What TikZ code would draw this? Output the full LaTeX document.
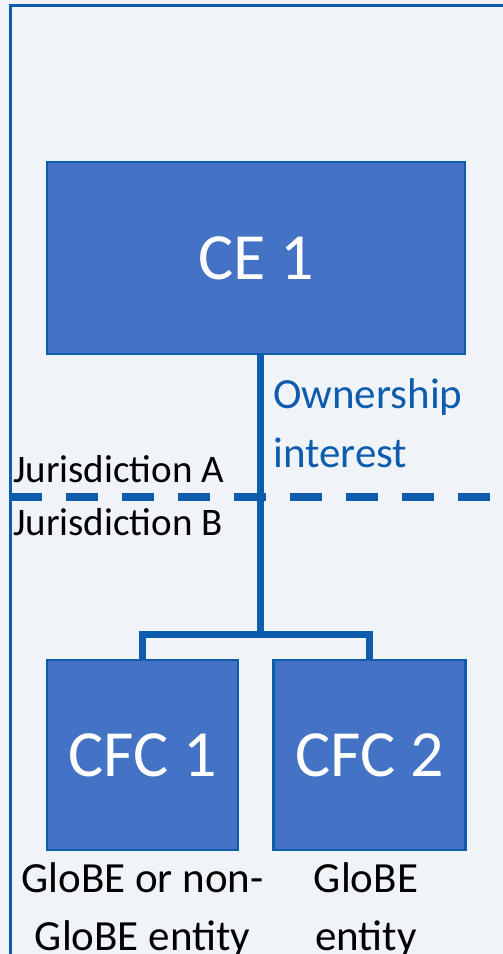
\documentclass[tikz,border=0pt]{standalone}
\usepackage{fontspec}
\setmainfont{Carlito}
\definecolor{pagebg}{RGB}{240,244,249}
\definecolor{linkblue}{RGB}{14,92,174}
\definecolor{boxfill}{RGB}{68,114,196}
\tikzset{
  entity/.style={draw=linkblue, line width=2.2pt, fill=boxfill, text=white,
    inner sep=0pt, font=\fontsize{66}{72}\selectfont},
  link/.style={draw=linkblue, line width=7pt},
  border/.style={draw=linkblue, line width=3pt},
  jur/.style={anchor=base west, inner sep=0pt, text=black, font=\fontsize{39}{44}\selectfont},
  note/.style={anchor=base, inner sep=0pt, text=black, align=center,
    font=\fontsize{43}{58}\selectfont},
}
\begin{document}
\begin{tikzpicture}[x=1pt, y=-1pt]
  \useasboundingbox (0,0) rectangle (503,954);
  \fill[pagebg] (0,0) rectangle (503,954);
  \begin{scope}
    \clip (0,0) rectangle (503,954);
    \draw[border] (10,5) rectangle (540,990);
  \end{scope}

  % entities
  \node[entity, minimum width=418pt, minimum height=192pt] (ce1) at (256,258) {CE 1};
  \node[entity, minimum width=191pt, minimum height=190pt] (cfc1) at (142.5,755) {CFC 1};
  \node[entity, minimum width=192pt, minimum height=190pt] (cfc2) at (369.5,755) {CFC 2};

  % ownership tree
  \coordinate (hub) at (260,634);
  \draw[link] (ce1.south -| hub) -- (hub);
  \draw[link] (cfc1.north) |- (hub) -| (cfc2.north);

  % border between jurisdictions
  \coordinate (jl) at (10,497);
  \coordinate (jr) at (503,497);
  \draw[draw=linkblue, line width=7.5pt, dash pattern=on 32pt off 24pt] (jl) -- (jr);

  % labels
  \node[jur] (ja) at (13,482) {Jurisdiction A};
  \node[jur] (jb) at (13,535) {Jurisdiction B};
  \node[anchor=base west, inner sep=0pt, text=linkblue, align=left,
        font=\fontsize{43}{59}\selectfont] (own) at (273,467) {Ownership\\interest};
  \node[note] (n1) at (142.5,950) {GloBE or non-\\GloBE entity};
  \node[note] (n2) at (366,950) {GloBE\\entity};
\end{tikzpicture}
\end{document}
